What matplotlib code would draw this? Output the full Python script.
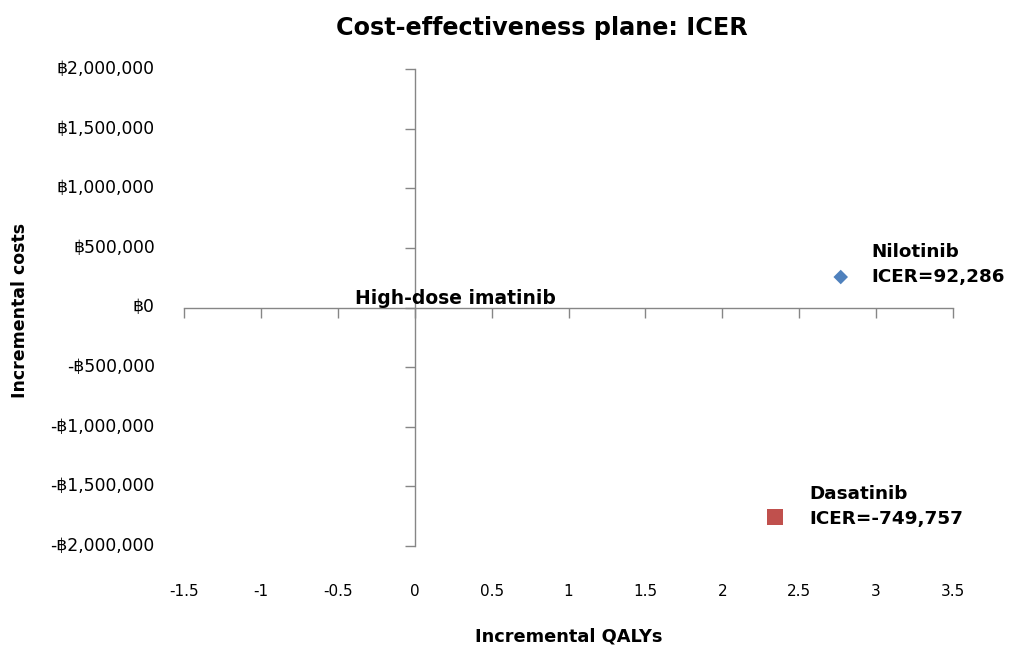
import matplotlib.pyplot as plt

# Incremental QALYs and costs of each drug vs high-dose imatinib
drugs = ["High-dose imatinib", "Nilotinib", "Dasatinib"]
qalys = [0.0, 2.77, 2.34]
costs = [0, 255632, -1754431]
icer_text = ["", "ICER=92,286", "ICER=-749,757"]

x_ticks = [-1.5, -1, -0.5, 0, 0.5, 1, 1.5, 2, 2.5, 3, 3.5]
y_ticks = [-2000000, -1500000, -1000000, -500000, 0, 500000, 1000000, 1500000, 2000000]

AXIS_GREY = "#868686"
LABEL_FONT = ["DejaVu Sans"]
TICK_FONT = ["DejaVu Sans", "Liberation Sans", "Noto Sans CJK SC"]


def baht(v):
    sign = "-" if v < 0 else ""
    return f"{sign}\u0e3f{abs(v):,}"


fig = plt.figure(figsize=(10.09, 6.46), dpi=100)
ax = fig.add_axes([184 / 1009, 1 - 546 / 646, 769 / 1009, 477 / 646])
ax.set_xlim(-1.5, 3.5)
ax.set_ylim(-2000000, 2000000)

# axes cross at the origin, Excel style
for side in ["top", "right"]:
    ax.spines[side].set_visible(False)
for side in ["left", "bottom"]:
    ax.spines[side].set_position(("data", 0))
    ax.spines[side].set_color(AXIS_GREY)
    ax.spines[side].set_linewidth(1.0)

ax.set_xticks(x_ticks)
ax.set_yticks(y_ticks)
ax.tick_params(direction="out", length=7, width=1.0, color=AXIS_GREY,
               labelbottom=False, labelleft=False)

# tick labels sit at the edges of the plot area, not on the crossing axes
for v in y_ticks:
    ax.text(-0.038, v, baht(v), transform=ax.get_yaxis_transform(),
            ha="right", va="center", fontsize=12.4, family=TICK_FONT)
for v in x_ticks:
    ax.text(v, -0.096, f"{v:g}", transform=ax.get_xaxis_transform(),
            ha="center", va="center", fontsize=11, family=TICK_FONT)

# Nilotinib and Dasatinib points
ax.scatter(qalys[1], costs[1], marker="D", s=55, color="#4F81BD",
           edgecolor="none", zorder=3, clip_on=False)
ax.scatter(qalys[2], costs[2], marker="s", s=130, color="#C0504D",
           edgecolor="none", zorder=3, clip_on=False)

ax.annotate(drugs[0], (qalys[0], costs[0]), xytext=(-60, 9),
            textcoords="offset pixels", ha="left", va="center",
            fontsize=13.5, fontweight="bold", family=LABEL_FONT)
ax.annotate(f"{drugs[1]}\n{icer_text[1]}", (qalys[1], costs[1]), xytext=(31, 13),
            textcoords="offset pixels", ha="left", va="center", linespacing=1.5,
            fontsize=13.2, fontweight="bold", family=LABEL_FONT)
ax.annotate(f"{drugs[2]}\n{icer_text[2]}", (qalys[2], costs[2]), xytext=(35, 10),
            textcoords="offset pixels", ha="left", va="center", linespacing=1.5,
            fontsize=13.2, fontweight="bold", family=LABEL_FONT)

fig.text(542 / 1009, 1 - 28 / 646, "Cost-effectiveness plane: ICER",
         ha="center", va="center", fontsize=17.2, fontweight="bold", family=LABEL_FONT)
fig.text(569 / 1009, 1 - 636 / 646, "Incremental QALYs",
         ha="center", va="center", fontsize=12.8, fontweight="bold", family=LABEL_FONT)
fig.text(20 / 1009, 1 - 310 / 646, "Incremental costs", rotation=90,
         ha="center", va="center", fontsize=12.5, fontweight="bold", family=LABEL_FONT)

fig.savefig("out.png", dpi=100)
